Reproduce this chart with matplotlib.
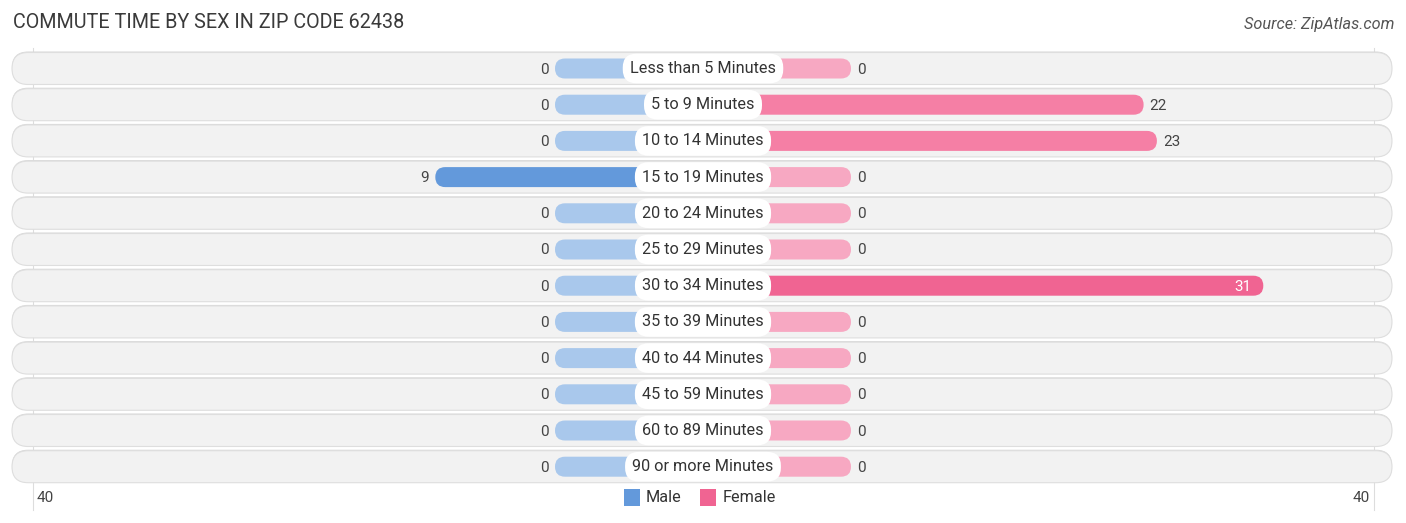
import matplotlib
matplotlib.use("Agg")
import matplotlib.pyplot as plt
from matplotlib.patches import FancyBboxPatch, Rectangle

categories = ["Less than 5 Minutes", "5 to 9 Minutes", "10 to 14 Minutes", "15 to 19 Minutes",
              "20 to 24 Minutes", "25 to 29 Minutes", "30 to 34 Minutes", "35 to 39 Minutes",
              "40 to 44 Minutes", "45 to 59 Minutes", "60 to 89 Minutes", "90 or more Minutes"]
male = [0, 0, 0, 9, 0, 0, 0, 0, 0, 0, 0, 0]
female = [0, 22, 23, 0, 0, 0, 31, 0, 0, 0, 0, 0]
axis_max = 40
title = "COMMUTE TIME BY SEX IN ZIP CODE 62438"
source = "Source: ZipAtlas.com"

plt.rcParams['font.family'] = ['Roboto', 'DejaVu Sans']

W, H = 1406, 523
fig = plt.figure(figsize=(W / 100, H / 100), dpi=100)
ax = fig.add_axes([0, 0, 1, 1])
ax.set_xlim(0, W)
ax.set_ylim(H, 0)
ax.axis('off')

cx = 703.0
stub = 148.0
unit = 13.3
row0 = 68.5
step = 36.2
bar_h = 20
row_h = 32

male_full = "#6399db"
male_light = "#a9c8ec"
fem_mid = "#f57fa5"
fem_full = "#f06492"
fem_light = "#f7a8c2"

# faint vertical guide lines
for gx in (33, 1374):
    ax.plot([gx, gx], [48, 510], color="#dddddd", lw=0.8, zorder=0)

for i, cat in enumerate(categories):
    y = row0 + i * step
    # row background with subtle top shadow
    ax.add_patch(FancyBboxPatch((12, y - row_h / 2 - 1), 1380, row_h,
                                boxstyle="round,pad=0,rounding_size=16",
                                fc="#d9d9d9", ec="none", zorder=1))
    ax.add_patch(FancyBboxPatch((12, y - row_h / 2), 1380, row_h,
                                boxstyle="round,pad=0,rounding_size=16",
                                fc="#f2f2f2", ec="#dedede", lw=0.8, zorder=1))
    # male bar
    mv = male[i]
    mlen = stub + mv * unit
    mcol = male_full if mv > 0 else male_light
    ax.add_patch(FancyBboxPatch((cx - mlen, y - bar_h / 2), mlen, bar_h,
                                boxstyle="round,pad=0,rounding_size=10", fc=mcol, ec="none", zorder=2))
    # female bar
    fv = female[i]
    flen = stub + fv * unit
    if fv == 0:
        fcol = fem_light
    elif fv >= 30:
        fcol = fem_full
    else:
        fcol = fem_mid
    ax.add_patch(FancyBboxPatch((cx, y - bar_h / 2), flen, bar_h,
                                boxstyle="round,pad=0,rounding_size=10", fc=fcol, ec="none", zorder=2))
    # category label pill
    ax.text(cx, y, cat, ha="center", va="center", fontsize=11.7, color="#333333", zorder=4,
            bbox=dict(boxstyle="round,pad=0.45,rounding_size=0.85", fc="white", ec="none"))
    # value labels
    ax.text(cx - mlen - 6, y + 1, str(mv), ha="right", va="center", fontsize=11, color="#444444", zorder=4)
    if fv >= 30:
        ax.text(cx + flen - 12, y + 1, str(fv), ha="right", va="center", fontsize=11,
                color="white", zorder=4)
    else:
        ax.text(cx + flen + 6, y + 1, str(fv), ha="left", va="center", fontsize=11,
                color="#444444", zorder=4)

# axis end labels
ax.text(45, 498, str(axis_max), ha="center", va="center", fontsize=11, color="#444444")
ax.text(1361, 498, str(axis_max), ha="center", va="center", fontsize=11, color="#444444")

# legend
ax.add_patch(Rectangle((624, 489), 16, 17, fc=male_full, ec="none"))
ax.text(646, 498, "Male", ha="left", va="center", fontsize=11.7, color="#333333")
ax.add_patch(Rectangle((700, 489), 16, 17, fc=fem_full, ec="none"))
ax.text(723, 498, "Female", ha="left", va="center", fontsize=11.7, color="#333333")

# title and source
ax.text(13, 22, title, ha="left", va="center", fontsize=14.2, color="#3a3a3a")
ax.text(1394, 25, source, ha="right", va="center", fontsize=11.7, color="#555555", style="italic")

fig.savefig("out.png", dpi=100)
